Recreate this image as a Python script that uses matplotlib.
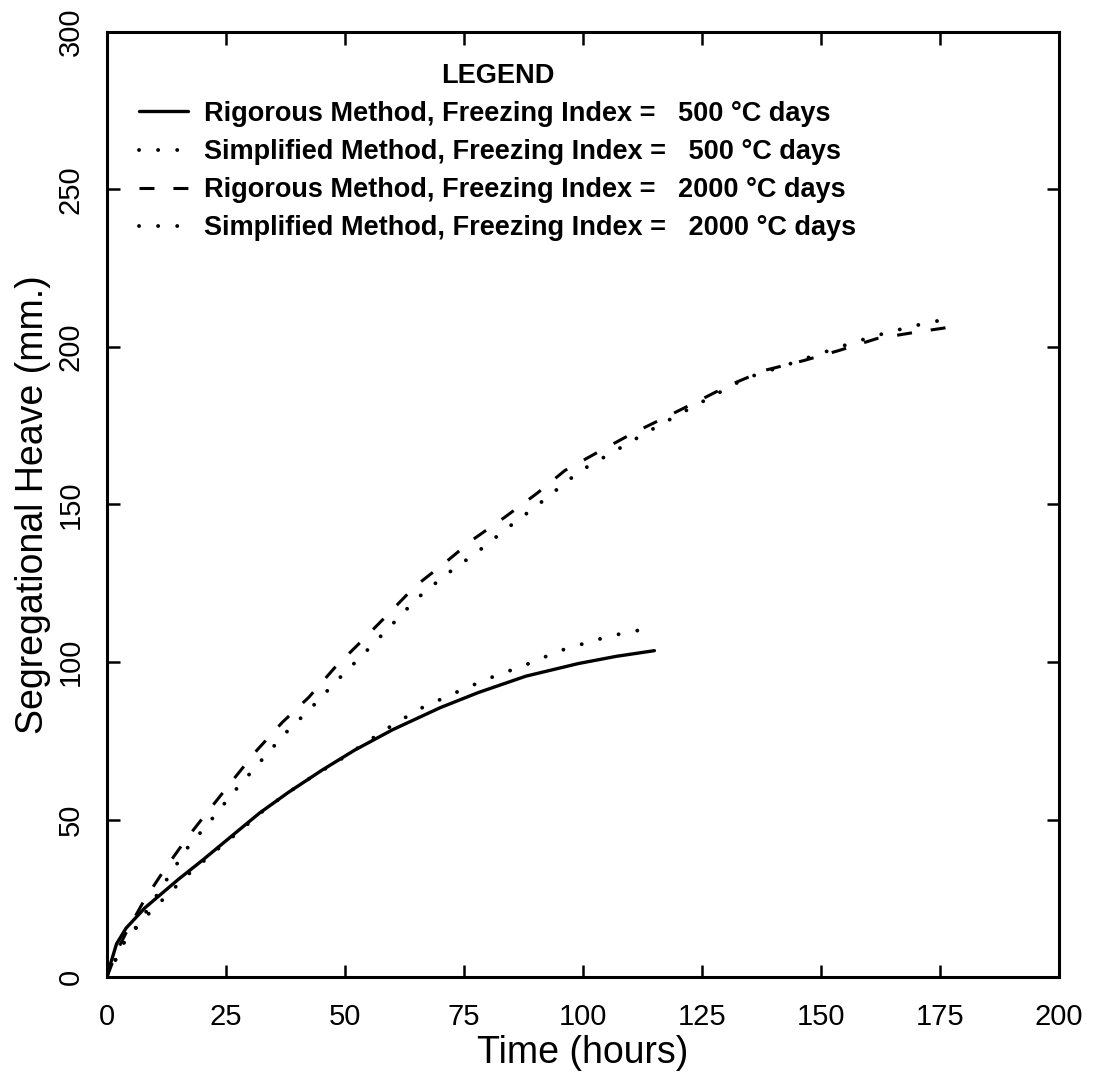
#%% imports
from matplotlib import pyplot as plt
import numpy as np

plt.rcParams['font.family'] = ['Liberation Sans', 'DejaVu Sans']

#%% data

# rigorous method, freezing index 500 C days (solid)
t_rig500 = [0, 0.5, 1, 2, 4, 8, 15, 20, 26, 32, 38, 45, 52, 60, 70, 78, 88, 99, 107, 115]
h_rig500 = [0, 3, 5.5, 10.5, 15.5, 22, 31, 37, 44.5, 52, 58.5, 65.5, 72, 78.5, 85.5, 90.3,
            95.5, 99.5, 101.8, 103.6]

# simplified method, freezing index 500 C days (dotted)
t_sim500 = [0, 1.7, 3.4, 6, 9, 12, 17, 22, 28, 33, 38, 43, 49, 55, 59, 65.5, 72.8, 80.2,
            87.8, 95.2, 102.7, 108, 115]
h_sim500 = [0, 5.2, 10.6, 15.4, 20.5, 25, 32.5, 39, 46.5, 53, 58.5, 63.5, 69, 75, 79, 85,
            90, 94.8, 99, 103.6, 107, 109, 111]

# rigorous method, freezing index 2000 C days (dashed)
t_rig2000 = [0, 2, 4, 7.8, 12.2, 17, 21.7, 26.7, 31.5, 36.8, 42.4, 47.9, 53.6, 59.2, 64.7,
             71, 77, 83.6, 90.3, 96.2, 103, 110.3, 117.2, 124, 130.6, 138.2, 146.4, 153.8,
             161.8, 169.5, 178]
h_rig2000 = [0, 8, 14, 24.3, 34.4, 44.5, 53.5, 63, 72, 80.8, 88.8, 98.3, 106.8, 115.4, 124,
             131.5, 139, 146, 153.5, 160.8, 166.5, 172.5, 177.6, 182.7, 187.8, 192.6, 195.7,
             198.9, 202.7, 204.6, 206.5]

# simplified method, freezing index 2000 C days (dotted)
t_sim2000 = [0, 1.7, 3.4, 5.9, 8.8, 12.4, 16.8, 21.8, 26.9, 32, 37.4, 43, 48.5, 54, 59.7,
             65, 71, 77.7, 84, 90.3, 96.6, 99.8, 106.5, 113.4, 120.4, 127.5, 134, 141.8,
             149.2, 156.7, 163.9, 171.8, 177]
h_sim2000 = [0, 5.2, 10.6, 15.4, 22, 30.6, 40.8, 49.7, 59.2, 68, 77.3, 85.6, 94.4, 102.7,
             111.6, 120, 127.5, 134.8, 142.4, 149.6, 157.3, 161, 166.8, 172.9, 178.8, 184.6,
             190, 193.8, 197.6, 201.4, 204.6, 207.5, 209]

x_ticks = [0, 25, 50, 75, 100, 125, 150, 175, 200]
y_ticks = [0, 50, 100, 150, 200, 250, 300]

labels = ["Rigorous Method, Freezing Index =   500 \u00b0C days",
          "Simplified Method, Freezing Index =   500 \u00b0C days",
          "Rigorous Method, Freezing Index =   2000 \u00b0C days",
          "Simplified Method, Freezing Index =   2000 \u00b0C days"]

#%% plot
fig = plt.figure(figsize=(10.94, 10.89), dpi=100)
ax = fig.add_axes([107/1094, (1089-977)/1089, 952/1094, 945/1089])

ax.plot(t_rig500, h_rig500, color="k", lw=2.4, solid_capstyle="round", label=labels[0])
ax.plot(t_sim500, h_sim500, color="k", lw=2.8, linestyle=(0, (0.01, 4.9)),
        dash_capstyle="round", label=labels[1])
ax.plot(t_rig2000, h_rig2000, color="k", lw=2.2, linestyle=(0, (4.9, 6.2)), label=labels[2])
ax.plot(t_sim2000, h_sim2000, color="k", lw=2.8, linestyle=(0, (0.01, 4.9)),
        dash_capstyle="round", label=labels[3])

ax.set_xlim(0, 200)
ax.set_ylim(0, 300)
ax.set_xticks(x_ticks)
ax.set_yticks(y_ticks)
ax.tick_params(direction="in", length=9, width=1.8, top=True, right=True,
               labelsize=21)
ax.tick_params(axis="x", pad=18.5)
ax.tick_params(axis="y", pad=16)
for lab in ax.get_yticklabels():
    lab.set_rotation(90)
    lab.set_va("center")
for s in ax.spines.values():
    s.set_linewidth(2.2)

ax.set_xlabel("Time (hours)", fontsize=27, labelpad=3)
ax.set_ylabel("Segregational Heave (mm.)", fontsize=27, labelpad=4)

leg = ax.legend(loc="upper left", bbox_to_anchor=(0.034, 0.9675), frameon=False,
                title="LEGEND", handlelength=1.8, handletextpad=0.6,
                labelspacing=0.45, borderpad=0, borderaxespad=0,
                prop={"size": 19.5, "weight": "bold"})
leg.get_title().set_fontsize(19.5)
leg.get_title().set_fontweight("bold")

plt.savefig("out.png", dpi=100)
